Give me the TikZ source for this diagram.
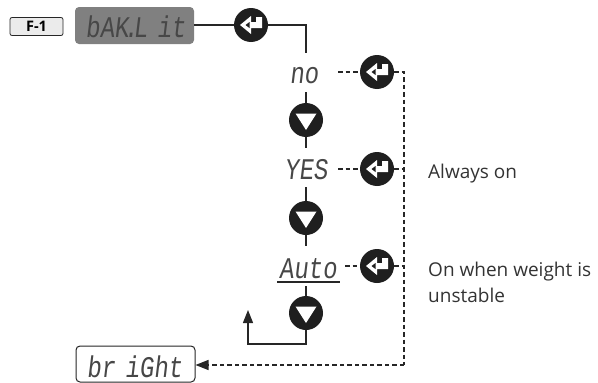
\documentclass[tikz,border=0pt]{standalone}
\usepackage{fontspec}
\setmainfont{Open Sans}
\newfontfamily\segfont[FakeSlant=0.12,FakeStretch=0.8]{Liberation Mono}
\usetikzlibrary{arrows.meta}
\tikzset{
	enterbtn/.style={circle, fill=black!88, minimum size=34pt, inner sep=0pt,
		path picture={
			\fill[white] ([xshift=-11pt]path picture bounding box.center)
				-- ++(11pt,9pt) -- ++(0pt,-6pt) -- ++(5pt,0pt) -- ++(0pt,5pt)
				-- ++(6pt,0pt) -- ++(0pt,-11pt) -- ++(-11pt,0pt)
				-- ++(0pt,-6pt) -- cycle;
			\fill[black!88] ([xshift=-5.5pt]path picture bounding box.center)
				-- ++(4pt,3pt) -- ++(0pt,-6pt) -- cycle;
		}},
	downbtn/.style={circle, fill=black!88, minimum size=34pt, inner sep=0pt,
		path picture={
			\fill[white] ([yshift=-10pt]path picture bounding box.center)
				-- ++(-10.5pt,16.5pt) -- ++(21pt,0pt) -- cycle;
		}},
	segtext/.style={font=\segfont\fontsize{30pt}{30pt}\selectfont, text=black!72, inner sep=0pt, anchor=base},
	solidline/.style={line width=1.3pt, black!85},
	dashline/.style={line width=1.3pt, black!85, dash pattern=on 4.5pt off 3pt},
	bigtip/.style={-{Triangle[length=13pt,width=10pt]}},
	note/.style={font=\fontsize{19pt}{26pt}\selectfont, text=black!80, anchor=base west, inner sep=0pt, align=left}
}
\begin{document}
\begin{tikzpicture}[x=1pt,y=-1pt]
\useasboundingbox (0,0) rectangle (598,383);

% header row
\node[draw=black!85, fill=black!8, rounded corners=2pt, line width=.8pt,
	minimum width=53pt, minimum height=18pt, inner sep=0pt,
	font=\bfseries\fontsize{14.5pt}{14.5pt}\selectfont] (fkey) at (36.5,26.5) {F-1};
\node[fill=black!50, rounded corners=4pt, minimum width=119pt, minimum height=37pt,
	inner sep=0pt] (backlit) at (134.5,25.5) {};
\node[segtext] (backlittxt) at (135.5,37) {bAK\kern-5pt.\kern-5pt L\kern-5pt\ it};
\node[enterbtn] (enter0) at (251,25) {};
\coordinate (turn) at (306,25);

% options
\node[segtext] (no) at (304,83) {no};
\node[segtext] (yes) at (306,179) {YES};
\node[segtext] (auto) at (308,278) {Auto};
\node[enterbtn] (enter1) at (377,72) {};
\node[enterbtn] (enter2) at (377,169) {};
\node[enterbtn] (enter3) at (377,266) {};
\node[downbtn] (down1) at (306,120) {};
\node[downbtn] (down2) at (306,218) {};
\node[downbtn] (down3) at (306,313) {};
\node[draw=black!85, fill=white, rounded corners=4pt, line width=1pt,
	minimum width=119pt, minimum height=36pt, inner sep=0pt] (bright) at (135.5,364) {};
\node[segtext] (brighttxt) at (134.5,377) {br\kern-5pt\ iGht};

% notes
\node[note] (alwayson) at (428,178) {Always on};
\node[note] (unstable) at (428,302) {On when weight is\\unstable};

% free ends
\coordinate (noin) at (306,53);
\coordinate (noout) at (306,92);
\coordinate (yesin) at (306,148);
\coordinate (yesout) at (306,187);
\coordinate (autoin) at (306,246);
\coordinate (autoout) at (306,286);
\coordinate (loopend) at (248,310);
\coordinate (loopturn) at (306,344);
\coordinate (nodash) at (338,72);
\coordinate (yesdash) at (338,169);
\coordinate (autodash) at (345,266);
\coordinate (railtop) at (404,72);
\coordinate (railmid) at (404,169);
\coordinate (railauto) at (404,266);
\coordinate (railend) at (404,365);
\coordinate (ulstart) at (277,282);
\coordinate (ulend) at (340,282);

\draw[solidline] (backlit.east |- enter0) -- (enter0);
\draw[solidline] (enter0) -- (turn) -- (noin);
\draw[solidline] (noout) -- (down1) -- (yesin);
\draw[solidline] (yesout) -- (down2) -- (autoin);
\draw[solidline] (autoout) -- (down3);
\draw[solidline, bigtip] (down3) -- (loopturn) -| (loopend);
\draw[solidline] (ulstart) -- (ulend);

\draw[dashline] (nodash) -- (enter1);
\draw[dashline] (yesdash) -- (enter2);
\draw[dashline] (autodash) -- (enter3);
\draw[dashline] (enter1) -- (railtop) -- (railend);
\draw[dashline] (enter2) -- (railmid);
\draw[dashline] (enter3) -- (railauto);
\draw[dashline, bigtip] (railend) -- (bright.east |- railend);
\end{tikzpicture}
\end{document}
